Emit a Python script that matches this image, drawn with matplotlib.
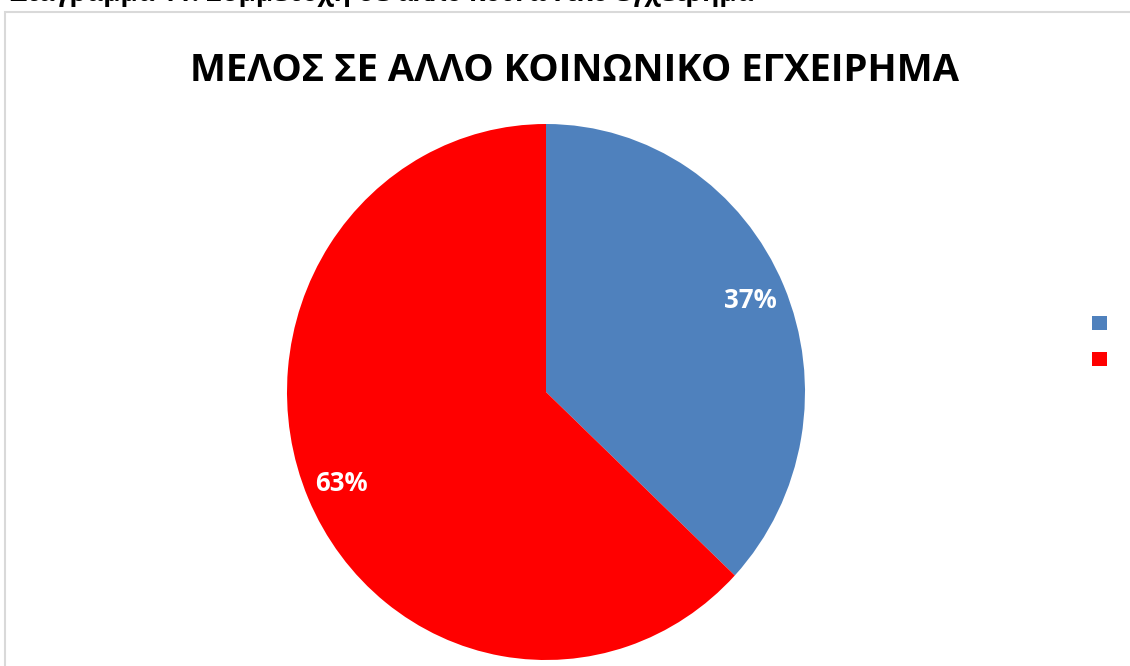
import matplotlib.pyplot as plt
from matplotlib.patches import Rectangle

plt.rcParams['font.family'] = ['Open Sans', 'DejaVu Sans']

# data
title = 'ΜΕΛΟΣ ΣΕ ΑΛΛΟ ΚΟΙΝΩΝΙΚΟ ΕΓΧΕΙΡΗΜΑ'
labels = ['', '']
values = [37, 63]
colors = ['#4f81bd', '#ff0000']

W, H = 1130, 666
fig = plt.figure(figsize=(W / 100, H / 100), dpi=100)

# caption above the chart frame, mostly cut off by the top edge
fig.text(10 / W, 1 - 1 / H, 'Διάγραμμα 11: Συμμετοχή σε άλλο κοινωνικό εγχείρημα',
         fontsize=19, fontweight='bold', ha='left', va='baseline', color='black')

# chart frame (runs off the right and bottom edges)
fig.patches.append(Rectangle((5 / W, -0.05), 1.2, 1 - 12 / H + 0.05,
                             transform=fig.transFigure, fill=False,
                             edgecolor='#d9d9d9', linewidth=1.5))

fig.text(575 / W, 1 - 71 / H, title, fontsize=27.5, fontweight='bold',
         ha='center', va='center', color='black')

# pie axes: center (546, 392), rx 259, ry 268
cx, cy, rx, ry = 546, 392, 259, 268
ax = fig.add_axes([(cx - rx) / W, 1 - (cy + ry) / H, 2 * rx / W, 2 * ry / H])
wedges, texts, autotexts = ax.pie(values, labels=labels, colors=colors,
                                  startangle=90, counterclock=False,
                                  autopct='%d%%', pctdistance=0.86,
                                  textprops={'color': 'white', 'fontsize': 18.5,
                                             'fontweight': 'bold'})
ax.set_aspect('auto')
ax.set_xlim(-1, 1)
ax.set_ylim(-1, 1)

fig.legend(wedges, labels, loc='center left', bbox_to_anchor=(1076 / W, 1 - 342 / H),
           frameon=False, handlelength=0.8, handleheight=0.8, labelspacing=1.0,
           fontsize=13)

fig.savefig('out.png', dpi=100)
